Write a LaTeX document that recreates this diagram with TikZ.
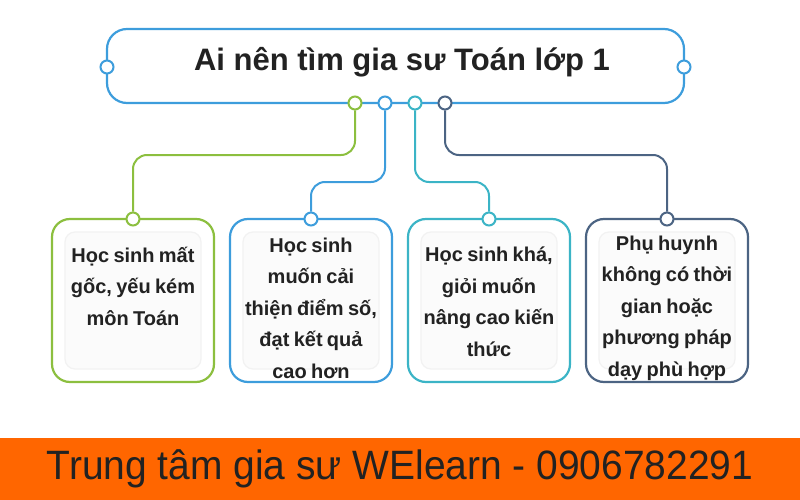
\documentclass[tikz,border=0pt]{standalone}
\usepackage{fontspec}
\setmainfont{Liberation Sans}
\newfontfamily\footfont[FakeStretch=0.95]{Liberation Sans}
\definecolor{cgreen}{HTML}{8CBF3F}
\definecolor{cblue}{HTML}{3D9DDC}
\definecolor{cteal}{HTML}{3BB4C6}
\definecolor{cslate}{HTML}{4C6483}
\definecolor{corange}{HTML}{FF6600}
\definecolor{ctext}{HTML}{222222}
\newcommand{\tightwords}{\spaceskip=4.3pt\relax}
\begin{document}
\begin{tikzpicture}[x=1pt,y=-1pt,
  titlebox/.style={draw=cblue,line width=2.2pt,rounded corners=20pt,minimum width=577pt,minimum height=74pt,fill=white},
  childbox/.style={draw=#1,line width=2.2pt,rounded corners=18pt,minimum width=162pt,minimum height=163pt,fill=white},
  panel/.style={draw=gray!10,line width=1.2pt,fill=gray!3,rounded corners=10pt,minimum width=136pt,minimum height=137pt},
  dot/.style={circle,draw=#1,line width=2pt,fill=white,minimum size=13pt,inner sep=0pt},
  link/.style={draw=#1,line width=2pt,rounded corners=14pt},
  boxtext/.style={text=ctext,font=\fontsize{20}{31.5}\selectfont\bfseries,align=center,text width=160pt,inner sep=0pt,execute at begin node=\tightwords}
]
\useasboundingbox (0,0) rectangle (800,500);
% title
\node[titlebox] (title) at (395.5,66) {};
\node[text=ctext,font=\fontsize{31}{36}\selectfont\bfseries,inner sep=0pt] (ttext) at (402,62) {Ai nên tìm gia sư Toán lớp 1};
\node[dot=cblue] (sl) at (107,67) {};
\node[dot=cblue] (sr) at (684,67) {};
% child boxes
\node[childbox=cgreen] (b1) at (133,300.5) {};
\node[childbox=cblue] (b2) at (311,300.5) {};
\node[childbox=cteal] (b3) at (489,300.5) {};
\node[childbox=cslate] (b4) at (667,300.5) {};
\node[panel] (p1) at (133,300.5) {};
\node[panel] (p2) at (311,300.5) {};
\node[panel] (p3) at (489,300.5) {};
\node[panel] (p4) at (667,300.5) {};
% connectors
\coordinate (h1) at (133,155);
\coordinate (h2) at (311,182);
\coordinate (h3) at (489,182);
\coordinate (h4) at (667,155);
\node[dot=cgreen] (g1) at (355,103) {};
\node[dot=cblue] (g2) at (385,103) {};
\node[dot=cteal] (g3) at (415,103) {};
\node[dot=cslate] (g4) at (445,103) {};
\node[dot=cgreen] (t1) at (133,219) {};
\node[dot=cblue] (t2) at (311,219) {};
\node[dot=cteal] (t3) at (489,219) {};
\node[dot=cslate] (t4) at (667,219) {};
\draw[link=cgreen] (g1.south) |- (h1) -- (t1.north);
\draw[link=cblue] (g2.south) |- (h2) -- (t2.north);
\draw[link=cteal] (g3.south) |- (h3) -- (t3.north);
\draw[link=cslate] (g4.south) |- (h4) -- (t4.north);
% texts
\node[boxtext] (x1) at (133,286) {Học sinh mất\\gốc, yếu kém\\môn Toán};
\node[boxtext] (x2) at (311,308) {Học sinh\\muốn cải\\thiện điểm số,\\đạt kết quả\\cao hơn};
\node[boxtext] (x3) at (489,302) {Học sinh khá,\\giỏi muốn\\nâng cao kiến\\thức};
\node[boxtext] (x4) at (667,308) {Phụ huynh\\không có thời\\gian hoặc\\phương pháp\\dạy phù hợp};
% footer
\fill[corange] (0,438) rectangle (800,500);
\node[text=ctext,font=\footfont\fontsize{41}{44}\selectfont,inner sep=0pt] (foot) at (400,469) {Trung tâm gia sư WElearn - 0906782291};
\end{tikzpicture}
\end{document}
